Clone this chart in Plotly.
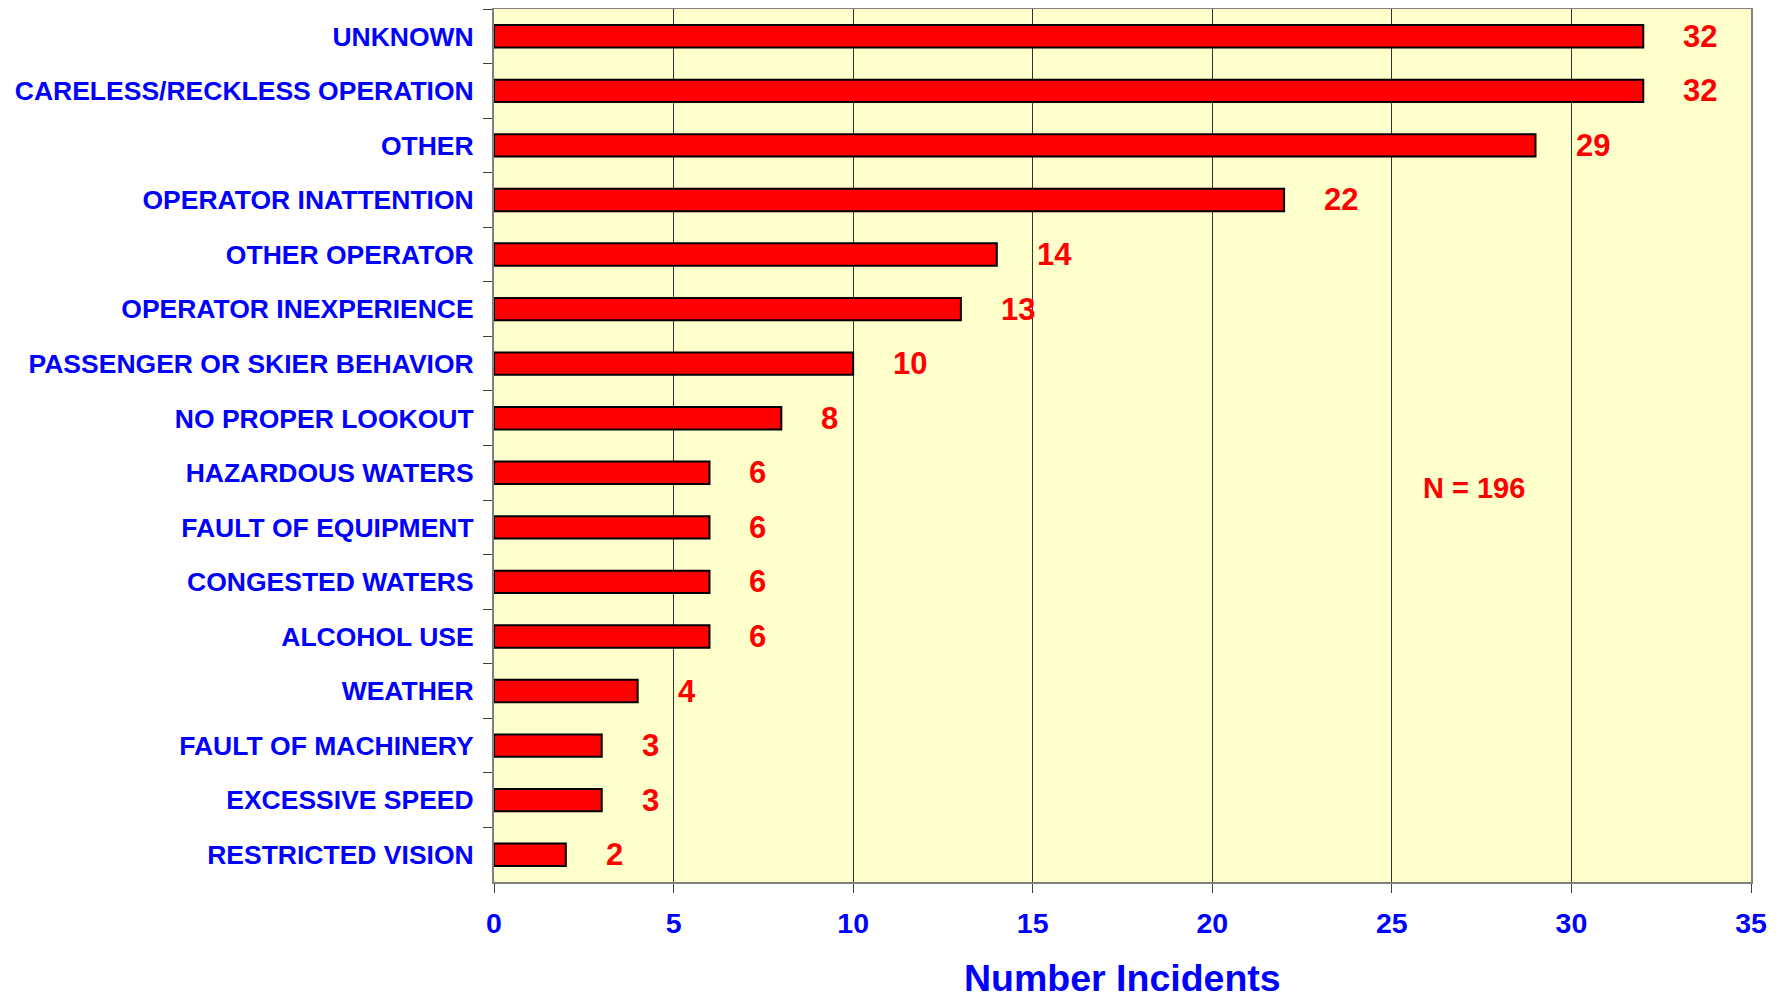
import plotly.graph_objects as go

categories = [
    "UNKNOWN", "CARELESS/RECKLESS OPERATION", "OTHER", "OPERATOR INATTENTION",
    "OTHER OPERATOR", "OPERATOR INEXPERIENCE", "PASSENGER OR SKIER BEHAVIOR",
    "NO PROPER LOOKOUT", "HAZARDOUS WATERS", "FAULT OF EQUIPMENT",
    "CONGESTED WATERS", "ALCOHOL USE", "WEATHER", "FAULT OF MACHINERY",
    "EXCESSIVE SPEED", "RESTRICTED VISION",
]
incidents = [32, 32, 29, 22, 14, 13, 10, 8, 6, 6, 6, 6, 4, 3, 3, 2]
x_ticks = [0, 5, 10, 15, 20, 25, 30, 35]
note_text = "N = 196"
x_title = "Number Incidents"

FONT = "Liberation Sans, Arial, sans-serif"
BLUE = "#0000FF"
RED = "#FF0000"

fig = go.Figure()
fig.add_trace(go.Bar(
    x=incidents, y=categories, orientation="h",
    width=0.41,
    marker=dict(color=RED, line=dict(color="#000000", width=2)),
    hoverinfo="x+y",
))

annotations = []
for c, v in zip(categories, incidents):
    annotations.append(dict(
        x=v, y=c, xref="x", yref="y", text=str(v), showarrow=False,
        xanchor="left", yanchor="middle", xshift=38,
        font=dict(family=FONT, size=31, color=RED, weight="bold"),
    ))
annotations.append(dict(
    x=27.3, y=8.27, xref="x", yref="y", text=note_text, showarrow=False,
    xanchor="center", yanchor="middle",
    font=dict(family=FONT, size=29, color=RED, weight="bold"),
))
# x-axis title placed below the plot area
annotations.append(dict(
    x=0.5, y=0, xref="paper", yref="paper", text=x_title, showarrow=False,
    xanchor="center", yanchor="middle", yshift=-96,
    font=dict(family=FONT, size=37.5, color=BLUE, weight="bold"),
))

fig.update_layout(
    width=1771, height=986,
    margin=dict(l=486, r=28, t=1, b=112),
    paper_bgcolor="#FFFFFF",
    plot_bgcolor="#FFFFCC",
    showlegend=False,
    annotations=annotations,
)
fig.update_xaxes(
    range=[0, 35], tickvals=x_ticks, ticktext=[str(t) for t in x_ticks],
    automargin=False,
    showgrid=True, gridcolor="#333333", gridwidth=1,
    showline=True, linecolor="#808080", linewidth=2, mirror=True,
    ticks="outside", ticklen=9, tickcolor="#404040", tickwidth=1,
    ticklabelstandoff=6,
    tickfont=dict(family=FONT, size=28.5, color=BLUE, weight="bold"),
    zeroline=False,
)
fig.update_yaxes(
    autorange="reversed", type="category",
    automargin=False,
    showgrid=False,
    showline=True, linecolor="#808080", linewidth=2, mirror=True,
    ticks="outside", ticklen=9, tickcolor="#404040", tickwidth=1,
    tickson="boundaries", ticklabelstandoff=13,
    tickfont=dict(family=FONT, size=26.5, color=BLUE, weight="bold"),
)

fig.write_html("out.html")
